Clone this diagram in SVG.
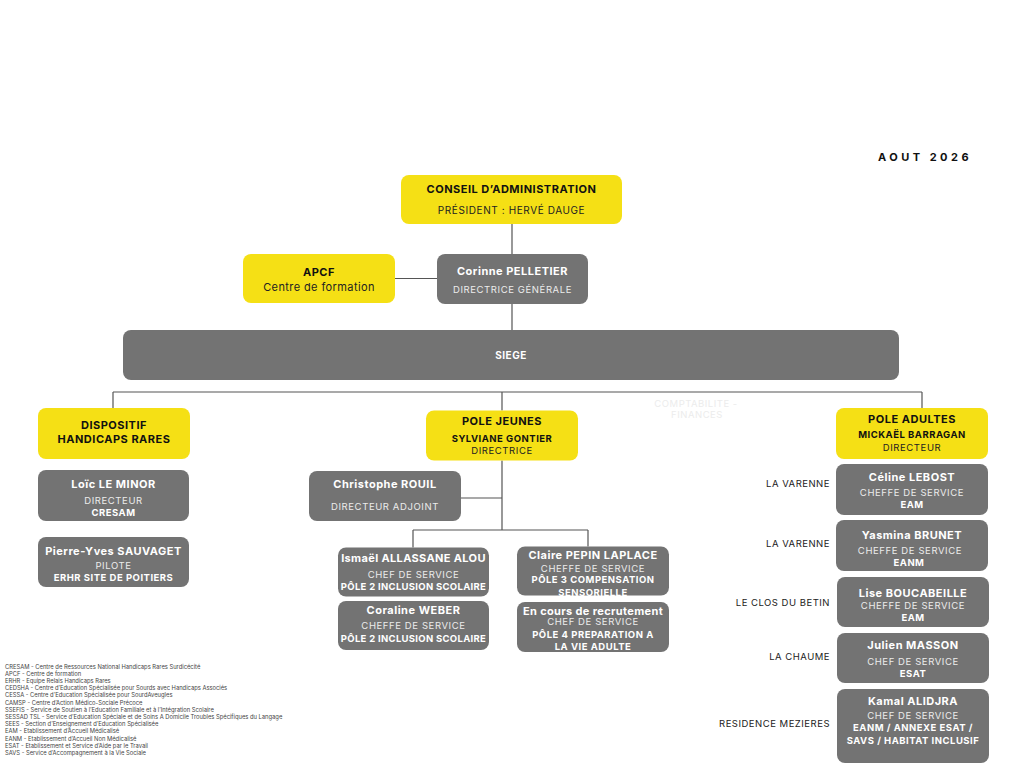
<svg xmlns="http://www.w3.org/2000/svg" width="1024" height="768" viewBox="0 0 1024 768">
<style>
.y{fill:#f5e015}
.g{fill:#737373}
.ln{stroke:#555;stroke-width:1.2;fill:none}
text{font-family:Inter,"Noto Sans",sans-serif;text-anchor:middle}
.hb{font-size:11px;font-weight:700;fill:#111;letter-spacing:0.5px}
.hs{font-size:9.5px;font-weight:400;fill:#222;letter-spacing:0.6px}
.hsb{font-size:9.5px;font-weight:700;fill:#111;letter-spacing:0.5px}
.wb{font-size:11px;font-weight:700;fill:#fff;letter-spacing:0.5px}
.ws{font-size:9.5px;font-weight:400;fill:#ececec;letter-spacing:0.6px}
.wsb{font-size:9.5px;font-weight:700;fill:#fff;letter-spacing:0.5px}
.lab{font-size:9.5px;fill:#222;text-anchor:end;letter-spacing:0.5px}
.leg{font-size:5.8px;fill:#444;text-anchor:start}
</style>
<rect width="1024" height="768" fill="#fff"/>
<text x="925" y="161" style="font-size:11px;font-weight:700;fill:#111;letter-spacing:3.5px">AOUT 2026</text>
<g id="connectors">
<path class="ln" d="M512 224V254M395 278.5H437M512 304V330M113 392H922M113 392V408M502 392V410.5M922 392V408M502 460.5V530M461 498H502M413 530H588M413 530V547.5M588 530V546.5"/>
</g>
<g id="conseil"><rect class="y" x="401" y="175" width="221" height="49" rx="8"/>
<text class="hb" x="511.5" y="193.3">CONSEIL D’ADMINISTRATION</text>
<text class="hs" x="511.5" y="214.3" style="font-size:10px">PRÉSIDENT : HERVÉ DAUGE</text></g>
<g id="apcf"><rect class="y" x="243" y="254" width="152" height="49" rx="8"/>
<text class="hb" x="319" y="276">APCF</text>
<text class="hs" x="319" y="290.7" style="font-size:11px;letter-spacing:0.4px">Centre de formation</text></g>
<g id="corinne"><rect class="g" x="437" y="254" width="151" height="50" rx="8"/>
<text class="wb" x="512.5" y="274.7">Corinne PELLETIER</text>
<text class="ws" x="512.5" y="292.7">DIRECTRICE GÉNÉRALE</text></g>
<g id="siege"><rect class="g" x="123" y="330" width="776" height="50" rx="8"/>
<text class="wsb" x="511" y="359" style="font-size:10px">SIEGE</text></g>
<g id="compta"><text x="696" y="406.5" style="font-size:9.5px;fill:#ececec;letter-spacing:0.5px">COMPTABILITE -</text>
<text x="697" y="417.5" style="font-size:9.5px;fill:#ececec;letter-spacing:0.5px">FINANCES</text></g>
<g id="dispositif"><rect class="y" x="38" y="408" width="152" height="51" rx="8"/>
<text class="hb" x="114" y="429">DISPOSITIF</text>
<text class="hb" x="114" y="443">HANDICAPS RARES</text></g>
<g id="loic"><rect class="g" x="38" y="470" width="151" height="51" rx="8"/>
<text class="wb" x="113.5" y="488">Loïc LE MINOR</text>
<text class="ws" x="113.5" y="503.5">DIRECTEUR</text>
<text class="wsb" x="113.5" y="516">CRESAM</text></g>
<g id="pierre"><rect class="g" x="38" y="537" width="151" height="50" rx="8"/>
<text class="wb" x="113.5" y="555">Pierre-Yves SAUVAGET</text>
<text class="ws" x="113.5" y="569">PILOTE</text>
<text class="wsb" x="113.5" y="580.7">ERHR SITE DE POITIERS</text></g>
<g id="polejeunes"><rect class="y" x="426" y="410.5" width="152" height="50" rx="8"/>
<text class="hb" x="502" y="425">POLE JEUNES</text>
<text class="hsb" x="502" y="442">SYLVIANE GONTIER</text>
<text class="hs" x="502" y="454">DIRECTRICE</text></g>
<g id="christophe"><rect class="g" x="309" y="471" width="152" height="50" rx="8"/>
<text class="wb" x="385" y="488.3">Christophe ROUIL</text>
<text class="ws" x="385" y="509.5">DIRECTEUR ADJOINT</text></g>
<g id="ismael"><rect class="g" x="338" y="547.5" width="151" height="49" rx="8"/>
<text class="wb" x="413.5" y="561.7" style="letter-spacing:0.35px">Ismaël ALLASSANE ALOU</text>
<text class="ws" x="413.5" y="577.5">CHEF DE SERVICE</text>
<text class="wsb" x="413.5" y="590" style="letter-spacing:0.3px">PÔLE 2 INCLUSION SCOLAIRE</text></g>
<g id="coraline"><rect class="g" x="338" y="601" width="151" height="49" rx="8"/>
<text class="wb" x="413.5" y="614">Coraline WEBER</text>
<text class="ws" x="413.5" y="629">CHEFFE DE SERVICE</text>
<text class="wsb" x="413.5" y="641.7" style="letter-spacing:0.3px">PÔLE 2 INCLUSION SCOLAIRE</text></g>
<g id="claire"><rect class="g" x="517" y="546.5" width="152" height="49" rx="8"/>
<text class="wb" x="593" y="559">Claire PEPIN LAPLACE</text>
<text class="ws" x="593" y="571.7">CHEFFE DE SERVICE</text>
<text class="wsb" x="593" y="583.4">PÔLE 3 COMPENSATION</text>
<text class="wsb" x="593" y="596">SENSORIELLE</text></g>
<g id="encours"><rect class="g" x="517" y="602" width="152" height="50" rx="8"/>
<text class="wb" x="593" y="615" style="letter-spacing:0.35px">En cours de recrutement</text>
<text class="ws" x="593" y="625">CHEF DE SERVICE</text>
<text class="wsb" x="593" y="637.7">PÔLE 4 PREPARATION A</text>
<text class="wsb" x="593" y="650">LA VIE ADULTE</text></g>
<g id="poleadultes"><rect class="y" x="836" y="408" width="152" height="51" rx="8"/>
<text class="hb" x="912" y="423.3">POLE ADULTES</text>
<text class="hsb" x="912" y="438">MICKAËL BARRAGAN</text>
<text class="hs" x="912" y="451">DIRECTEUR</text></g>
<g id="celine"><rect class="g" x="836" y="464" width="152" height="51" rx="8"/>
<text class="wb" x="912" y="481.3">Céline LEBOST</text>
<text class="ws" x="912" y="496">CHEFFE DE SERVICE</text>
<text class="wsb" x="912" y="508">EAM</text>
<text class="lab" x="830" y="487">LA VARENNE</text></g>
<g id="yasmina"><rect class="g" x="836" y="520" width="152" height="51" rx="8"/>
<text class="wb" x="912" y="539.3">Yasmina BRUNET</text>
<text class="ws" x="910" y="554">CHEFFE DE SERVICE</text>
<text class="wsb" x="909" y="566.3">EANM</text>
<text class="lab" x="830" y="547">LA VARENNE</text></g>
<g id="lise"><rect class="g" x="837" y="577" width="152" height="50" rx="8"/>
<text class="wb" x="913" y="596.7">Lise BOUCABEILLE</text>
<text class="ws" x="913" y="609">CHEFFE DE SERVICE</text>
<text class="wsb" x="913" y="621">EAM</text>
<text class="lab" x="830" y="605.6">LE CLOS DU BETIN</text></g>
<g id="julien"><rect class="g" x="837" y="633" width="152" height="50" rx="8"/>
<text class="wb" x="913" y="649.3">Julien MASSON</text>
<text class="ws" x="913" y="664.6">CHEF DE SERVICE</text>
<text class="wsb" x="913" y="677">ESAT</text>
<text class="lab" x="830" y="660.3">LA CHAUME</text></g>
<g id="kamal"><rect class="g" x="837" y="689" width="152" height="74" rx="8"/>
<text class="wb" x="913" y="704.7">Kamal ALIDJRA</text>
<text class="ws" x="913" y="719">CHEF DE SERVICE</text>
<text class="wsb" x="913" y="730.6">EANM / ANNEXE ESAT /</text>
<text class="wsb" x="913" y="744">SAVS / HABITAT INCLUSIF</text>
<text class="lab" x="830" y="727.3">RESIDENCE MEZIERES</text></g>
<g id="legend">
<text class="leg" x="5" y="668.5">CRESAM - Centre de Ressources National Handicaps Rares Surdicécité</text>
<text class="leg" x="5" y="675.7">APCF - Centre de formation</text>
<text class="leg" x="5" y="682.9">ERHR - Equipe Relais Handicaps Rares</text>
<text class="leg" x="5" y="690.1">CEDSHA - Centre d’Education Spécialisée pour Sourds avec Handicaps Associés</text>
<text class="leg" x="5" y="697.3">CESSA - Centre d’Education Spécialisée pour SourdAveugles</text>
<text class="leg" x="5" y="704.5">CAMSP - Centre d’Action Médico-Sociale Précoce</text>
<text class="leg" x="5" y="711.7">SSEFIS - Service de Soutien à l’Education Familiale et à l’Intégration Scolaire</text>
<text class="leg" x="5" y="718.9">SESSAD TSL - Service d’Education Spéciale et de Soins A Domicile Troubles Spécifiques du Langage</text>
<text class="leg" x="5" y="726.1">SEES - Section d’Enseignement d’Education Spécialisée</text>
<text class="leg" x="5" y="733.3">EAM - Etablissement d’Accueil Médicalisé</text>
<text class="leg" x="5" y="740.5">EANM - Etablissement d’Accueil Non Médicalisé</text>
<text class="leg" x="5" y="747.7">ESAT - Etablissement et Service d’Aide par le Travail</text>
<text class="leg" x="5" y="754.9">SAVS - Service d’Accompagnement à la Vie Sociale</text>
</g>
</svg>
